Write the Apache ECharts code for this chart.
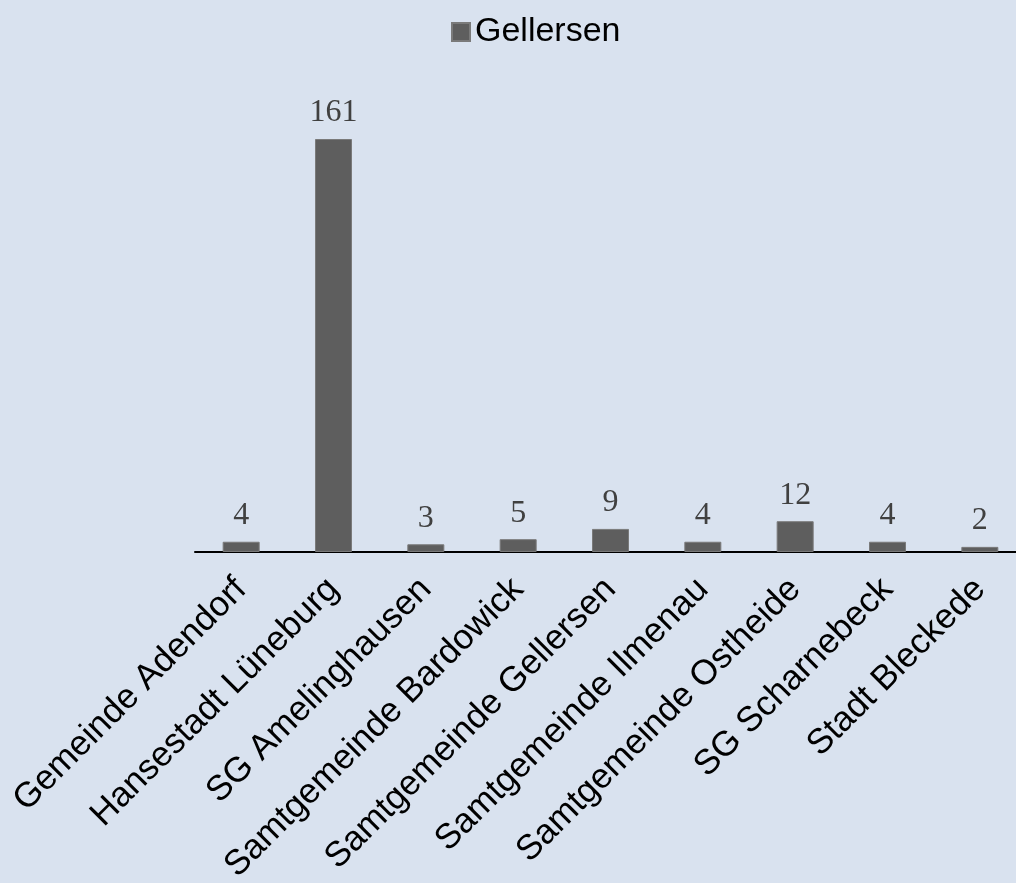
<!DOCTYPE html>
<html><head><meta charset="utf-8">
<script src="https://cdn.jsdelivr.net/npm/echarts@6/dist/echarts.min.js"></script>
<style>html,body{margin:0;padding:0;background:#d9e2ef;overflow:hidden}#c{width:1040px;height:883px}</style>
</head><body><div id="c"></div>
<script>
const categories = ["Gemeinde Adendorf","Hansestadt Lüneburg","SG Amelinghausen","Samtgemeinde Bardowick","Samtgemeinde Gellersen","Samtgemeinde Ilmenau","Samtgemeinde Ostheide","SG Scharnebeck","Stadt Bleckede"];
const seriesName = "Gellersen";
const values = [4,161,3,5,9,4,12,4,2];
const chart = echarts.init(document.getElementById('c'));
chart.setOption({
  backgroundColor:'#d9e2ef',
  animation:false,
  legend:{top:10,left:446,itemWidth:18,itemHeight:18,itemGap:9,icon:'rect',
    textStyle:{fontFamily:'Liberation Sans, Arial',fontSize:34,color:'#000'},
    data:[seriesName]},
  grid:{left:195,width:831,top:139,bottom:331,containLabel:false,outerBoundsMode:'none'},
  xAxis:{type:'category',data:categories,
    axisLine:{lineStyle:{color:'#000',width:2}},axisTick:{show:false},
    axisLabel:{rotate:45,interval:0,margin:32,fontFamily:'Liberation Sans, Arial',fontSize:35,color:'#000'}},
  yAxis:{type:'value',min:0,max:161,show:false,splitLine:{show:false}},
  series:[{name:seriesName,type:'bar',data:values,barWidth:37,
    itemStyle:{color:'#5e5e5e',borderColor:'#7a7a7a',borderWidth:1},
    label:{show:true,position:'top',distance:10,fontFamily:'Liberation Serif, Times New Roman',fontSize:32,color:'#404040'}}]
});
</script></body></html>
